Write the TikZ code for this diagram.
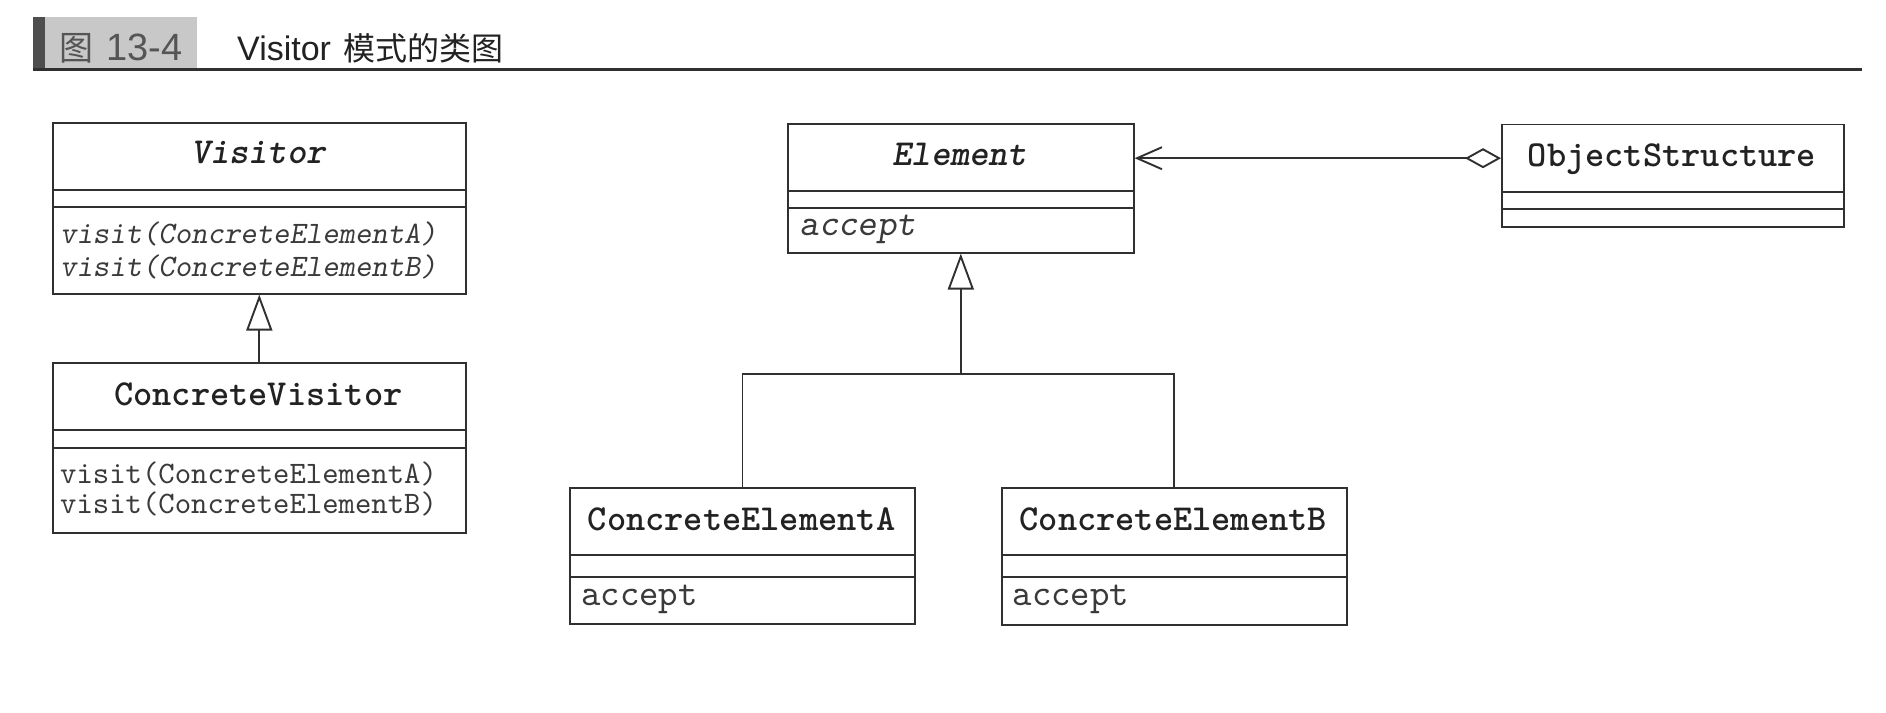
\documentclass[tikz,border=0pt]{standalone}
\usepackage{fontspec}
\usetikzlibrary{arrows.meta}

% heading fonts
\newfontfamily\hdsans{Liberation Sans}
\newfontfamily\hdcjk{Noto Sans CJK SC}
% typewriter faces for the class boxes
\newfontfamily\clsbold{lmmonolt10-bold.otf}
\newfontfamily\clsboldit{lmmonolt10-boldoblique.otf}
\newfontfamily\opfont{lmmono10-regular.otf}
\newfontfamily\opfontit{lmmonoslant10-regular.otf}

\definecolor{ink}{HTML}{222222}
\definecolor{rule}{HTML}{303030}
\definecolor{optext}{HTML}{3A3A3A}
\definecolor{tabgray}{HTML}{C8C8C8}
\definecolor{tabdark}{HTML}{4E4E4E}
\definecolor{tabtext}{HTML}{555555}

\tikzset{
  classbox/.style={draw=rule, line width=1.9pt, anchor=north west, inner sep=0pt, fill=white},
  sep/.style={draw=rule, line width=1.9pt},
  clsname/.style={anchor=base, inner sep=0pt, text=ink, font=\clsbold\fontsize{36.6}{40}\selectfont},
  absname/.style={clsname, font=\clsboldit\fontsize{36.6}{40}\selectfont},
  op/.style={anchor=base west, inner sep=0pt, text=optext, font=\opfont\fontsize{31.2}{34}\selectfont},
  absop/.style={op, font=\opfontit\fontsize{31.2}{34}\selectfont},
  bigop/.style={op, font=\opfont\fontsize{37}{40}\selectfont},
  bigabsop/.style={op, font=\opfontit\fontsize{37}{40}\selectfont},
  link/.style={draw=rule, line width=1.9pt},
  inherit/.style={link, -{Triangle[fill=white, length=36pt, width=26pt]}},
  aggr/.style={link, {Diamond[fill=white, length=36pt, width=20pt]}-{Straight Barb[length=25pt, width=22pt]}}
}

\begin{document}
\begin{tikzpicture}[x=1pt, y=-1pt]
\useasboundingbox (0,0) rectangle (1886,712);
\fill[white] (0,0) rectangle (1886,712);

% ---- heading ----
\fill[tabdark] (33,16.7) rectangle (45,68);
\fill[tabgray] (45,16.7) rectangle (196.7,68);
\draw[rule, line width=2.2pt] (33,69.5) -- (1862,69.5);
\node (figno) [anchor=base west, inner sep=0pt, text=tabtext] at (59,60)
  {\fontsize{34}{38}\selectfont\hdcjk 图\hspace{13pt}\hdsans\fontsize{38}{40}\selectfont 13-4};
\node (heading) [anchor=base west, inner sep=0pt, text=ink] at (237,60)
  {\hdsans\fontsize{34}{38}\selectfont Visitor\hspace{12pt}\hdcjk\fontsize{32}{38}\selectfont 模式的类图};

% ---- Visitor ----
\node (v) [classbox, minimum width=413.3pt, minimum height=171pt] at (51.7,121.7) {};
\node (vname) [absname] at (258.35,163) {Visitor};
\draw[sep] (v.north west) ++(0,68.3) -- ++(413.3,0);
\draw[sep] (v.north west) ++(0,85.3) -- ++(413.3,0);
\node (vop1) [absop] at (60,243.3) {visit(ConcreteElementA)};
\node (vop2) [absop] at (60,276.6) {visit(ConcreteElementB)};

% ---- ConcreteVisitor ----
\node (cv) [classbox, minimum width=413.3pt, minimum height=170.3pt] at (51.7,361.7) {};
\node (cvname) [clsname] at (258.35,405) {ConcreteVisitor};
\draw[sep] (cv.north west) ++(0,68.3) -- ++(413.3,0);
\draw[sep] (cv.north west) ++(0,86) -- ++(413.3,0);
\node (cvop1) [op] at (60,483.3) {visit(ConcreteElementA)};
\node (cvop2) [op] at (60,513.3) {visit(ConcreteElementB)};

% ---- Element ----
\node (e) [classbox, minimum width=345.7pt, minimum height=129pt] at (787,122.7) {};
\node (ename) [absname] at (959.85,165) {Element};
\draw[sep] (e.north west) ++(0,68) -- ++(345.7,0);
\draw[sep] (e.north west) ++(0,85.6) -- ++(345.7,0);
\node (eop) [bigabsop] at (799.5,235) {accept};

% ---- ObjectStructure ----
\node (os) [classbox, minimum width=342pt, minimum height=102.5pt] at (1501,123.5) {};
\node (osname) [clsname] at (1672,166.7) {ObjectStructure};
\draw[sep] (os.north west) ++(0,68.5) -- ++(342,0);
\draw[sep] (os.north west) ++(0,85.5) -- ++(342,0);

% ---- ConcreteElementA ----
\node (cea) [classbox, minimum width=345pt, minimum height=136.6pt] at (569,486.7) {};
\node (ceaname) [clsname] at (741.5,530) {ConcreteElementA};
\draw[sep] (cea.north west) ++(0,68.3) -- ++(345,0);
\draw[sep] (cea.north west) ++(0,90) -- ++(345,0);
\node (ceaop) [bigop] at (581,605) {accept};

% ---- ConcreteElementB ----
\node (ceb) [classbox, minimum width=345.4pt, minimum height=136.6pt] at (1000.6,487) {};
\node (cebname) [clsname] at (1173.3,530) {ConcreteElementB};
\draw[sep] (ceb.north west) ++(0,68.3) -- ++(345.4,0);
\draw[sep] (ceb.north west) ++(0,90) -- ++(345.4,0);
\node (cebop) [bigop] at (1012.5,605) {accept};

% ---- relations ----
\draw[inherit] (cv.north) -- (v.south);

\path (e.south) ++(0,120) coordinate (fork);
\draw[link] (cea.north) |- (fork) -| (ceb.north);
\draw[inherit] (fork) -- (e.south);

\path (os.west) ++(0,-17.5) coordinate (aggstart);
\draw[aggr] (aggstart) -- (aggstart -| e.east);
\end{tikzpicture}
\end{document}
